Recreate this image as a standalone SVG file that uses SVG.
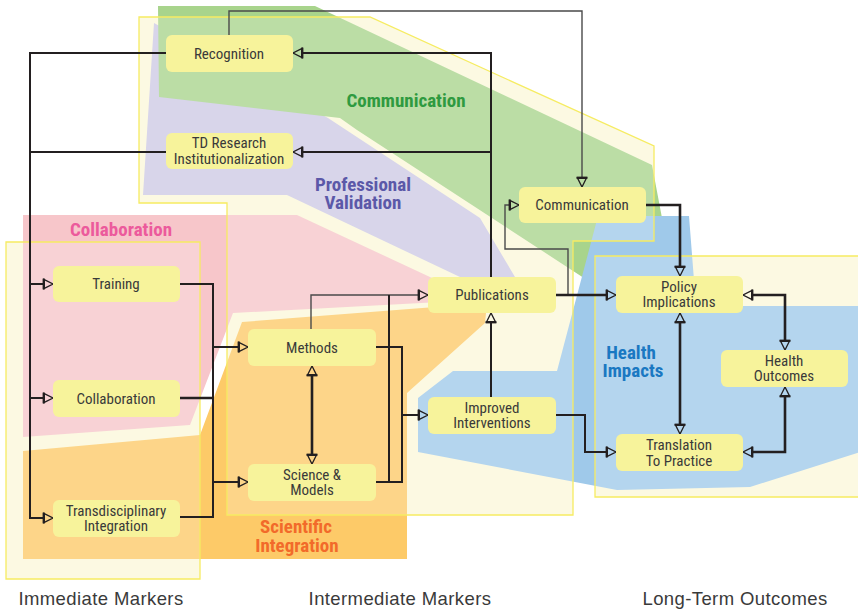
<svg xmlns="http://www.w3.org/2000/svg" width="858" height="611" viewBox="0 0 858 611">
<style>
.panelbase{fill:#fbf8da;stroke:none}
.panelover{fill:#ffffff;fill-opacity:0.22;stroke:#f6ec62;stroke-width:1.3}
.node rect{fill:#f7f39b}
.node text{font-family:"Liberation Sans Narrow","Roboto Condensed","DejaVu Sans Condensed","Liberation Sans",sans-serif;font-size:15px;fill:#3a3a3a;text-anchor:middle}
.grp{font-family:"Liberation Sans Narrow","Roboto Condensed","DejaVu Sans Condensed","Liberation Sans",sans-serif;font-weight:bold;font-size:19px;text-anchor:middle}
.col{font-family:"Liberation Sans","Arial",sans-serif;font-size:18.5px;fill:#3a3a3a;text-anchor:middle;letter-spacing:0.4px}
.c{fill:none;stroke:#231f20;stroke-width:2}
.t{fill:none;stroke:#4a4a4a;stroke-width:1.4}
.k{fill:none;stroke:#231f20;stroke-width:2.6}
.a{marker-end:url(#ah)}
.b{marker-start:url(#ah);marker-end:url(#ah)}
</style>
<defs>
<marker id="ah" markerUnits="userSpaceOnUse" viewBox="-2 -7 14 14" refX="0" refY="0" markerWidth="14" markerHeight="14" orient="auto-start-reverse">
<path d="M0.8,-4.6 L10,0 L0.8,4.6 Z" fill="none" stroke="#231f20" stroke-width="1.3" stroke-linejoin="miter"/>
<path d="M0.8,-5.4 V5.4" stroke="#231f20" stroke-width="2.4"/>
</marker>
<polygon id="pA" points="6,242 200,242 200,579 6,579"/>
<polygon id="pB" points="139,17 370,17 654,146 654,241 573,241 573,515 227,515 227,203 139,203"/>
<polygon id="pC" points="595,256 860,256 860,497 595,497"/>
</defs>
<rect width="858" height="611" fill="#ffffff"/>
<g id="panels-base">
<use href="#pA" class="panelbase"/>
<use href="#pB" class="panelbase"/>
<use href="#pC" class="panelbase"/>
</g>
<g id="regions">
<polygon id="lavender" points="154,23 328,118 480,218 515,277 460,277 287,195 143,195" fill="#cdc9e5"/>
<polygon id="green" points="158,6 315,6 652,165 662,218 590,282 357,130 340,118 159,97" fill="#a8d48c"/>
<polygon id="pink" points="23,215 297,215 430,277 440,282 440,302 233,313 190,425 23,437" fill="#f7c6ca"/>
<polygon id="orange" points="23,451 200,435 242,322 487,303 485,323 407,393 407,559 23,559" fill="#fdca68"/>
<polygon id="blue" points="418,398 453,371 557,371 598,216 689,216 696,306 860,306 860,452 750,487 617,490 418,452" fill="#9fc9ea"/>
</g>
<g id="panels-over">
<use href="#pA" class="panelover"/>
<use href="#pB" class="panelover"/>
<use href="#pC" class="panelover"/>
</g>
<g id="group-labels">
<text class="grp" x="406" y="107" fill="#2f9a40">Communication</text>
<text class="grp" x="363" y="191" fill="#5b58a8">Professional</text>
<text class="grp" x="363" y="209" fill="#5b58a8">Validation</text>
<text class="grp" x="121" y="236" fill="#ec5a9c">Collaboration</text>
<text class="grp" x="296" y="533" fill="#f26a2a">Scientific</text>
<text class="grp" x="297" y="552" fill="#f26a2a">Integration</text>
<text class="grp" x="631" y="359" fill="#1a78c2">Health</text>
<text class="grp" x="633" y="377" fill="#1a78c2">Impacts</text>
</g>
<g id="connectors">
<path class="c a" d="M166,53 H30 V518 H43"/>
<path class="c" d="M166,152 H30"/>
<path class="c a" d="M30,284 H43"/>
<path class="c a" d="M30,398 H43"/>
<path class="t a" d="M229,35 V11 H582 V177"/>
<path class="c a" d="M491,277 V53 H303"/>
<path class="c a" d="M491,152 H303"/>
<path class="t a" d="M568,295 V249 H505 V205 H509"/>
<path class="k a" d="M556,295 H606"/>
<path class="k a" d="M646,205 H680 V266"/>
<path class="k b" d="M680,323 V424"/>
<path class="k b" d="M753,295 H785 V340"/>
<path class="k b" d="M753,452 H785 V397"/>
<path class="c a" d="M556,415 H585 V452 H606"/>
<path class="c a" d="M491,397 V323"/>
<path class="k b" d="M312,376 V454"/>
<path class="t a" d="M311,329 V295 H418"/>
<path class="c" d="M376,482 H389 V295"/>
<path class="c" d="M376,347 H402 V482 H389"/>
<path class="c a" d="M402,415 H418"/>
<path class="c" d="M180,284 H213 V517 H180"/>
<path class="k" d="M180,398 H213"/>
<path class="c a" d="M213,347 H238"/>
<path class="c a" d="M213,482 H238"/>
</g>
<g id="n-recognition" class="node"><rect x="166" y="35" width="127" height="37" rx="6"/><text x="229" y="59">Recognition</text></g>
<g id="n-tdresearch" class="node"><rect x="166" y="133" width="127" height="36" rx="6"/><text x="229" y="148">TD Research</text><text x="229" y="163.5">Institutionalization</text></g>
<g id="n-communication" class="node"><rect x="519" y="187" width="127" height="36" rx="6"/><text x="582" y="210">Communication</text></g>
<g id="n-publications" class="node"><rect x="428" y="277" width="128" height="36" rx="6"/><text x="492" y="300">Publications</text></g>
<g id="n-policy" class="node"><rect x="616" y="276" width="127" height="37" rx="6"/><text x="679" y="291.5">Policy</text><text x="679" y="307">Implications</text></g>
<g id="n-health" class="node"><rect x="721" y="350" width="127" height="37" rx="6"/><text x="784" y="365.5">Health</text><text x="784" y="381">Outcomes</text></g>
<g id="n-translation" class="node"><rect x="616" y="434" width="127" height="37" rx="6"/><text x="679" y="450">Translation</text><text x="679" y="465.5">To Practice</text></g>
<g id="n-improved" class="node"><rect x="428" y="397" width="128" height="37" rx="6"/><text x="492" y="412.5">Improved</text><text x="492" y="428">Interventions</text></g>
<g id="n-methods" class="node"><rect x="248" y="329" width="128" height="37" rx="6"/><text x="312" y="352.5">Methods</text></g>
<g id="n-science" class="node"><rect x="248" y="464" width="128" height="37" rx="6"/><text x="312" y="479.5">Science &amp;</text><text x="312" y="495">Models</text></g>
<g id="n-training" class="node"><rect x="53" y="266" width="127" height="36" rx="6"/><text x="116" y="289">Training</text></g>
<g id="n-collaboration" class="node"><rect x="53" y="380" width="127" height="37" rx="6"/><text x="116" y="403.5">Collaboration</text></g>
<g id="n-transdisciplinary" class="node"><rect x="53" y="500" width="127" height="37" rx="6"/><text x="116" y="515.5">Transdisciplinary</text><text x="116" y="531">Integration</text></g>
<g id="column-labels">
<text class="col" x="101" y="605">Immediate Markers</text>
<text class="col" x="400" y="605">Intermediate Markers</text>
<text class="col" x="735" y="605">Long-Term Outcomes</text>
</g>
</svg>
